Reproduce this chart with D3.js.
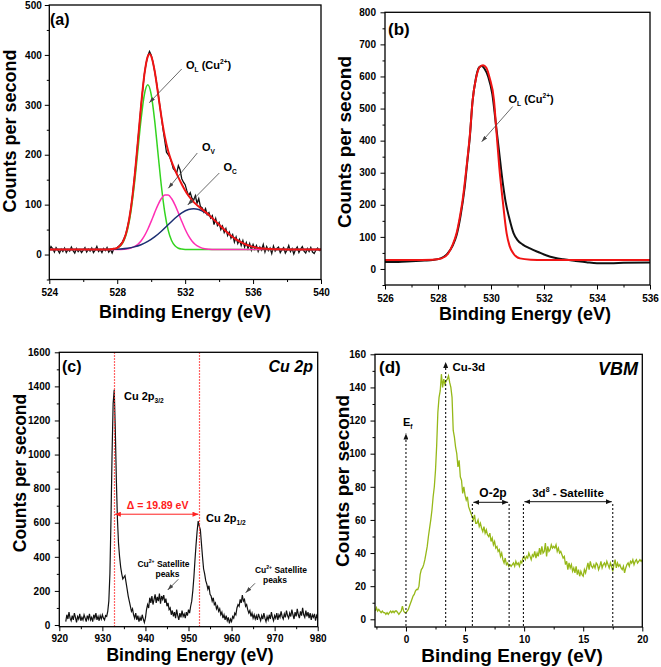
<!DOCTYPE html>
<html><head><meta charset="utf-8">
<script src="https://cdn.jsdelivr.net/npm/d3@7"></script>
<style>
body{margin:0;background:#fff}
svg{display:block}
text{font-family:"Liberation Sans",Arial,sans-serif;font-weight:bold}
</style>
</head><body>
<svg id="chart" width="661" height="667"></svg>
<script>
// ---------------- DATA ----------------
// (a) O 1s raw spectrum: start 524.0 eV, step 0.1 eV
const aRawStart = 524.0, aRawStep = 0.1;
const aRaw = [
  8,16,12,5,14,9,3,11,6,13,
  4,10,7,15,8,3,12,6,10,4,
  9,14,5,11,7,13,4,9,16,6,
  10,4,12,8,14,5,10,3,12,11,
  14,17,21,25,32,40,55,70,92,118,
  150,183,222,258,297,330,362,383,398,407,
  400,386,368,348,325,300,276,250,228,205,
  200,195,185,172,168,163,178,170,152,145,
  140,128,118,124,113,109,118,103,112,96,
  94,85,92,80,84,73,78,60,72,58,
  64,50,57,44,52,38,45,33,40,25,
  35,22,30,18,28,15,24,12,22,9,
  20,11,18,6,15,9,20,5,16,8,
  13,2,17,7,12,15,4,10,14,3,
  9,18,6,12,1,10,15,4,11,16,
  7,3,12,6,14,5,2,9,13,8,
  11
];
// (a) fit envelope and components: [eV, counts]
const aFit = [[524,10],[527,10.1],[527.4,10.3],[527.8,11.5],[528.0,13.6],[528.2,19],[528.4,30.6],[528.6,53],[528.8,91.4],[529.0,148.5],[529.2,220.5],[529.4,297],[529.6,360.8],[529.8,397],[529.9,401.7],[530.0,397.6],[530.2,368.8],[530.4,323.4],[530.6,276.4],[530.8,236.8],[531.0,207.6],[531.2,186.5],[531.4,169.7],[531.6,154.6],[531.8,141],[532.0,128.5],[532.2,117.8],[532.4,109.1],[532.6,102],[532.8,96.1],[533.0,90.5],[533.2,85],[533.4,79.2],[533.6,73],[533.8,66.4],[534.0,59.7],[534.2,53.1],[534.4,46.8],[534.6,40.8],[534.8,35.3],[535.0,30.4],[535.2,26.2],[535.4,22.7],[535.6,19.7],[535.8,17.3],[536.0,15.4],[536.2,13.9],[536.4,12.8],[536.6,12],[536.8,11.4],[537.0,10.9],[537.4,10.5],[538.0,10.1],[540,10]];
const aOL = [[524,10],[527.4,10],[527.6,10.2],[527.8,10.9],[528.0,12.6],[528.2,17.4],[528.4,28],[528.6,48.8],[528.8,84.6],[529.0,137.4],[529.2,203],[529.4,270],[529.6,320.7],[529.8,340],[530.0,320.7],[530.2,270],[530.4,203],[530.6,137.4],[530.8,84.6],[531.0,48.8],[531.2,28],[531.4,17.4],[531.6,12.6],[531.8,10.9],[532.0,10.2],[532.2,10],[540,10]];
const aOV = [[524,10],[527.6,10],[528.0,10.1],[528.4,10.7],[528.8,12.9],[529.0,15.7],[529.2,20.2],[529.4,27.3],[529.6,37.4],[529.8,50.7],[530.0,66.5],[530.2,83.5],[530.4,99.6],[530.6,112.2],[530.8,119.1],[531.0,119.1],[531.2,112.2],[531.4,99.6],[531.6,83.5],[531.8,66.5],[532.0,50.7],[532.2,37.4],[532.4,27.3],[532.6,20.2],[532.8,15.7],[533.0,12.9],[533.4,10.7],[533.8,10.1],[534.2,10],[540,10]];
const aOC = [[524,10],[526.5,10.1],[527.0,10.1],[527.4,10.25],[527.8,10.6],[528.2,11.35],[528.6,12.8],[529.0,15.4],[529.4,19.7],[529.8,26.2],[530.2,35.3],[530.6,46.8],[531.0,59.7],[531.4,72.7],[531.8,83.6],[532.2,90.4],[532.5,92],[532.8,90.4],[533.2,83.6],[533.6,72.7],[534.0,59.7],[534.4,46.8],[534.8,35.3],[535.2,26.2],[535.6,19.7],[536.0,15.4],[536.4,12.8],[536.8,11.35],[537.2,10.6],[537.6,10.25],[538.0,10.1],[540,10]];

// (b) O 1s: measured and fit [eV, counts]
const bRaw = [[526,22],[526.5,22],[527,24],[527.5,26],[527.8,28],[528.1,33],[528.35,47],[528.55,72],[528.7,105],[528.85,165],[529.0,250],[529.1,330],[529.2,410],[529.3,520],[529.42,590],[529.55,628],[529.65,633],[529.75,625],[529.9,598],[530.05,545],[530.2,440],[530.3,370],[530.45,265],[530.55,210],[530.7,155],[530.85,112],[531.0,90],[531.2,76],[531.47,64],[531.8,52],[532.1,42],[532.4,35],[532.73,30],[533.2,25],[533.6,21],[534,18],[534.5,18],[535,19],[536,20]];
const bFit = [[526,28],[527,28],[527.8,29],[528.14,33],[528.39,49],[528.55,75],[528.7,111],[528.82,160],[528.93,215],[529.08,320],[529.21,424],[529.31,528],[529.45,600],[529.58,630],[529.7,635],[529.82,628],[529.95,595],[530.11,528],[530.21,424],[530.31,320],[530.44,215],[530.59,111],[530.7,72],[530.84,49],[531.09,33],[531.5,29],[532,28],[536,28]];

// (c) Cu 2p spectrum: start 921.5 eV, step 0.25 eV
const cRawStart = 921.5, cRawStep = 0.25;
const cRaw = [
  20,60,
  35,75,40,25,  55,30,70,45,  15,50,35,65,  25,45,30,60,  40,20,55,35,
  65,30,45,20,  60,40,70,30,  50,25,55,35,  60,40,30,55,  50,80,140,300,
  620,1000,1300,1380,  1150,850,620,480,  400,340,300,270,  280,290,250,210,  170,140,110,80,
  95,60,40,70,  30,55,20,45,  25,60,35,15,  40,90,120,100,  160,130,170,120,
  150,180,130,165,  140,185,125,170,  150,175,130,155,  110,130,90,100,  60,85,50,75,
  40,90,55,30,  70,45,85,50,  65,40,75,55,  90,70,110,140,  200,280,380,470,
  550,610,580,560,  480,400,330,300,  260,240,210,230,  180,170,140,160,  120,130,95,110,
  80,95,60,75,  40,60,30,55,  25,45,10,35,  20,50,40,70,  60,100,120,110,
  150,130,175,140,  150,110,120,90,  70,85,50,70,  40,60,35,55,  30,65,45,25,
  55,35,70,40,  20,50,30,60,  35,75,45,25,  55,40,70,30,  60,45,80,50,
  35,65,45,85,  55,40,70,50,  90,60,35,75,  50,95,60,40,  80,55,100,60,
  45,85,50,75,  40,70,30,60,  45,65,25,55,
  40
];
const cPeaks = [932.66, 952.55];        // Cu 2p3/2, Cu 2p1/2 positions (eV)
const cSplitLabel = "\u0394 = 19.89 eV";

// (d) valence band: start -2.6 eV, step 0.1 eV
const dRawStart = -2.6, dRawStep = 0.1;
const dRaw = [
  5,7,5,6,5,4,
  5,4,4,3,4,3,4,5,4,5,
  4,5,5,4,3,4,5,8,5,4,
  4,5,6,8,10,12,14,15,17,18,
  18,20,27,30,31,33,36,40,44,50,
  55,60,66,74,80,90,105,125,134,138,
  148,140,145,142,144,145,147,143,140,134,
  114,110,104,100,92,96,86,84,76,80,
  75,72,74,68,66,64,62,60,63,58,
  58,60,56,58,55,53,56,52,54,51,
  50,52,47,49,45,47,43,44,41,42,
  38,40,36,34,37,33,34,32,33,32,
  33,34,32,35,33,34,32,35,34,37,
  38,36,38,37,40,38,36,39,38,41,
  37,40,38,43,39,44,40,41,46,38,
  44,41,42,45,43,44,43,45,41,43,
  40,41,39,37,38,33,35,30,34,31,
  33,29,31,28,32,27,30,26,29,27,
  26,30,28,31,34,30,35,32,31,33,
  31,34,33,30,32,35,31,33,34,32,
  35,33,31,34,32,29,33,36,31,34,
  32,33,31,30,32,28,31,33,34,32,
  35,34,36,33,35,36,34,35,36,35,
  36
];
const dMarks = {Ef: 0, Cu3d: 3.36, O2pFrom: 5.62, O2pTo: 8.73, SatFrom: 9.94, SatTo: 17.5};

// tick values
const aXTicks = [524,528,532,536,540], aXMinor = [526,530,534,538];
const aYTicks = [0,100,200,300,400,500], aYMinor = [-50,50,150,250,350,450];
const bXTicks = [526,528,530,532,534,536], bXMinor = [527,529,531,533,535];
const bYTicks = [0,100,200,300,400,500,600,700,800], bYMinor = [-50,50,150,250,350,450,550,650,750];
const cXTicks = [920,930,940,950,960,970,980], cXMinor = [925,935,945,955,965,975];
const cYTicks = [0,200,400,600,800,1000,1200,1400,1600], cYMinor = [100,300,500,700,900,1100,1300,1500];
const dXTicks = [0,5,10,15,20], dXMinor = [-2.5,2.5,7.5,12.5,17.5];
const dYTicks = [0,20,40,60,80,100,120,140,160], dYMinor = [10,30,50,70,90,110,130,150];

// ---------------- DRAWING ----------------
const svg = d3.select('#chart');
const defs = svg.append('defs');
function marker(id, color, w, h) {
  defs.append('marker').attr('id', id).attr('viewBox', `0 0 ${w} ${h}`)
    .attr('refX', w).attr('refY', h/2).attr('markerWidth', w).attr('markerHeight', h)
    .attr('markerUnits', 'userSpaceOnUse').attr('orient', 'auto-start-reverse')
    .append('path').attr('d', `M0,0L${w},${h/2}L0,${h}Z`).attr('fill', color);
}
marker('arrG', '#444', 6, 4);
marker('arrR', '#ff2020', 6, 5);
marker('arrK', '#111', 6, 5);

function seriesFrom(start, step, vals) { return vals.map((v, i) => [start + i * step, v]); }

function panel(p) {
  const x = d3.scaleLinear().domain(p.xDom).range([p.l, p.r]);
  const y = d3.scaleLinear().domain(p.yDom).range([p.b, p.t]);
  const g = svg.append('g');
  defs.append('clipPath').attr('id', 'clip' + p.id).append('rect')
    .attr('x', p.l).attr('y', p.t).attr('width', p.r - p.l).attr('height', p.b - p.t);
  const style = s => {
    s.select('.domain').remove();
    s.selectAll('text').attr('font-size', 10).attr('fill', '#000');
    s.selectAll('line').attr('stroke', '#000').attr('stroke-width', 1);
  };
  g.append('g').attr('transform', `translate(0,${p.b})`).call(d3.axisBottom(x).tickValues(p.xMinor).tickSize(2.5).tickFormat(() => '')).call(style);
  g.append('g').attr('transform', `translate(0,${p.b})`).call(d3.axisBottom(x).tickValues(p.xTicks).tickSize(4.5).tickPadding(p.xPad || 5).tickFormat(d3.format('d'))).call(style);
  g.append('g').attr('transform', `translate(${p.l},0)`).call(d3.axisLeft(y).tickValues(p.yMinor).tickSize(2.5).tickFormat(() => '')).call(style);
  g.append('g').attr('transform', `translate(${p.l},0)`).call(d3.axisLeft(y).tickValues(p.yTicks).tickSize(4.5).tickPadding(p.yPad || 4.5).tickFormat(d3.format('d'))).call(style);
  const plot = g.append('g').attr('clip-path', `url(#clip${p.id})`);
  // axis titles
  g.append('text').attr('x', p.xtx).attr('y', p.xty).attr('text-anchor', 'middle').attr('font-size', p.xts).text('Binding Energy (eV)');
  g.append('text').attr('transform', `translate(${p.ytx},${p.yty}) rotate(-90)`).attr('text-anchor', 'middle').attr('font-size', p.yts).text('Counts per second');
  const frame = () => g.append('rect').attr('x', p.l).attr('y', p.t).attr('width', p.r - p.l).attr('height', p.b - p.t)
    .attr('fill', 'none').attr('stroke', '#000').attr('stroke-width', 1.3);
  return {x, y, g, plot, frame};
}

function rich(sel, x, y, parts, size, anchor, fill, fstyle) {
  const t = sel.append('text').attr('x', x).attr('y', y).attr('font-size', size)
    .attr('text-anchor', anchor || 'start').attr('fill', fill || '#000').attr('font-style', fstyle || 'normal');
  let shift = 0;
  parts.forEach(([s, k]) => {
    const target = k === 'sub' ? size * 0.3 : k === 'sup' ? -size * 0.42 : 0;
    const ts = t.append('tspan').text(s).attr('dy', target - shift);
    if (k !== 'n') ts.attr('font-size', size * 0.6);
    shift = target;
  });
  return t;
}
function arrow(sel, x1, y1, x2, y2, color, mk, w, dash, both) {
  const l = sel.append('line').attr('x1', x1).attr('y1', y1).attr('x2', x2).attr('y2', y2)
    .attr('stroke', color).attr('stroke-width', w).attr('marker-end', `url(#${mk})`);
  if (both) l.attr('marker-start', `url(#${mk})`);
  if (dash) l.attr('stroke-dasharray', dash);
  return l;
}
const lineGen = (x, y, curve) => d3.line().x(d => x(d[0])).y(d => y(d[1])).curve(curve || d3.curveLinear);

// ---- Panel (a)
const A = panel({id: 'a', l: 49.3, r: 321, t: 5, b: 279.5, xDom: [524, 540], yDom: [-50, 500],
  xTicks: aXTicks, xMinor: aXMinor, yTicks: aYTicks, yMinor: aYMinor, yPad: 3,
  xtx: 185, xty: 318, xts: 18, ytx: 16, yty: 131, yts: 18});
A.plot.append('path').attr('d', lineGen(A.x, A.y)(seriesFrom(aRawStart, aRawStep, aRaw))).attr('fill', 'none').attr('stroke', '#111').attr('stroke-width', 1.3);
A.plot.append('path').attr('d', lineGen(A.x, A.y, d3.curveMonotoneX)(aOL)).attr('fill', 'none').attr('stroke', '#33d41f').attr('stroke-width', 1.5);
A.plot.append('path').attr('d', lineGen(A.x, A.y, d3.curveMonotoneX)(aOV)).attr('fill', 'none').attr('stroke', '#ff2fb4').attr('stroke-width', 1.5);
A.plot.append('path').attr('d', lineGen(A.x, A.y, d3.curveMonotoneX)(aOC)).attr('fill', 'none').attr('stroke', '#1c2f72').attr('stroke-width', 1.5);
A.plot.append('path').attr('d', lineGen(A.x, A.y, d3.curveMonotoneX)(aFit)).attr('fill', 'none').attr('stroke', '#f01414').attr('stroke-width', 2);
A.frame();
A.g.append('text').attr('x', 50).attr('y', 25).attr('font-size', 16).text('(a)');
rich(A.g, 186, 69, [['O', 'n'], ['L', 'sub'], [' (Cu', 'n'], ['2+', 'sup'], [')', 'n']], 11);
arrow(A.g, 181.7, 69, 149.3, 102.7, '#444', 'arrG', 0.8);
rich(A.g, 202, 151, [['O', 'n'], ['V', 'sub']], 11);
arrow(A.g, 197.3, 153, 168.3, 188.3, '#444', 'arrG', 0.8);
rich(A.g, 223.5, 171, [['O', 'n'], ['C', 'sub']], 11);
arrow(A.g, 219.3, 173, 187.7, 205, '#444', 'arrG', 0.8);

// ---- Panel (b)
const B = panel({id: 'b', l: 385, r: 650, t: 12.3, b: 285, xDom: [526, 536], yDom: [-50, 800],
  xTicks: bXTicks, xMinor: bXMinor, yTicks: bYTicks, yMinor: bYMinor,
  xtx: 525, xty: 320, xts: 18, ytx: 351, yty: 142, yts: 19});
B.plot.append('path').attr('d', lineGen(B.x, B.y, d3.curveMonotoneX)(bRaw)).attr('fill', 'none').attr('stroke', '#111').attr('stroke-width', 2);
B.plot.append('path').attr('d', lineGen(B.x, B.y, d3.curveMonotoneX)(bFit)).attr('fill', 'none').attr('stroke', '#f01414').attr('stroke-width', 2);
B.frame();
B.g.append('text').attr('x', 388).attr('y', 35).attr('font-size', 17).text('(b)');
rich(B.g, 508.5, 103, [['O', 'n'], ['L', 'sub'], [' (Cu', 'n'], ['2+', 'sup'], [')', 'n']], 11);
arrow(B.g, 512.7, 106.5, 481.7, 141.7, '#444', 'arrG', 0.8);

// ---- Panel (c)
const C = panel({id: 'c', l: 59.3, r: 317.7, t: 352.3, b: 626.7, xDom: [920, 980], yDom: [-10, 1600],
  xTicks: cXTicks, xMinor: cXMinor, yTicks: cYTicks, yMinor: cYMinor, xPad: 4,
  xtx: 190, xty: 661, xts: 17.5, ytx: 26, yty: 473, yts: 17.5});
C.plot.append('path').attr('d', lineGen(C.x, C.y)(seriesFrom(cRawStart, cRawStep, cRaw))).attr('fill', 'none').attr('stroke', '#111').attr('stroke-width', 1.2);
cPeaks.forEach(e => C.plot.append('line').attr('x1', Math.round(C.x(e)) + 0.5).attr('x2', Math.round(C.x(e)) + 0.5).attr('y1', C.y(1600)).attr('y2', C.y(-10))
  .attr('stroke', '#ff3030').attr('stroke-width', 1.2).attr('stroke-dasharray', '1.5,1.5'));
arrow(C.g, C.x(cPeaks[0]) + 1, C.y(650), C.x(cPeaks[1]) - 1, C.y(650), '#ff2020', 'arrR', 1, null, true);
C.g.append('text').attr('x', (C.x(cPeaks[0]) + C.x(cPeaks[1])) / 2 + 1).attr('y', 508.5).attr('text-anchor', 'middle')
  .attr('font-size', 10.5).attr('fill', '#ff2020').text(cSplitLabel);
C.frame();
C.g.append('text').attr('x', 62).attr('y', 372).attr('font-size', 16).text('(c)');
C.g.append('text').attr('x', 313).attr('y', 372).attr('text-anchor', 'end').attr('font-size', 16).attr('font-style', 'italic').text('Cu 2p');
rich(C.g, 124, 400, [['Cu 2p', 'n'], ['3/2', 'sub']], 11);
rich(C.g, 206, 522, [['Cu 2p', 'n'], ['1/2', 'sub']], 11);
rich(C.g, 163.5, 566.5, [['Cu', 'n'], ['2+', 'sup'], [' Satellite', 'n']], 8.5, 'middle');
C.g.append('text').attr('x', 167.5).attr('y', 577).attr('text-anchor', 'middle').attr('font-size', 8.5).text('peaks');
arrow(C.g, 178.3, 579.3, 167.7, 590, '#333', 'arrG', 0.8);
rich(C.g, 281, 572.5, [['Cu', 'n'], ['2+', 'sup'], [' Satellite', 'n']], 8.5, 'middle');
C.g.append('text').attr('x', 275).attr('y', 583).attr('text-anchor', 'middle').attr('font-size', 8.5).text('peaks');
arrow(C.g, 255, 583.3, 245.7, 592.7, '#333', 'arrG', 0.8);

// ---- Panel (d)
const D = panel({id: 'd', l: 375, r: 642.3, t: 354.3, b: 627, xDom: [-2.62, 20], yDom: [-4.65, 160],
  xTicks: dXTicks, xMinor: dXMinor, yTicks: dYTicks, yMinor: dYMinor, xPad: 4.5,
  xtx: 512, xty: 662, xts: 19, ytx: 349, yty: 481, yts: 19});
const dash = '2,2';
arrow(D.g, D.x(dMarks.Ef), D.y(-4), D.x(dMarks.Ef), 433.5, '#111', 'arrK', 1.1, dash);
arrow(D.g, D.x(dMarks.Cu3d), D.y(-4), D.x(dMarks.Cu3d), 362, '#111', 'arrK', 1.1, dash);
[dMarks.O2pFrom, dMarks.O2pTo, dMarks.SatFrom, dMarks.SatTo].forEach(e =>
  D.g.append('line').attr('x1', D.x(e)).attr('x2', D.x(e)).attr('y1', D.y(-4)).attr('y2', 502)
    .attr('stroke', '#111').attr('stroke-width', 1.1).attr('stroke-dasharray', dash));
arrow(D.g, D.x(dMarks.O2pFrom) + 1, 502.3, D.x(dMarks.O2pTo) - 1, 502.3, '#111', 'arrK', 1, null, true);
arrow(D.g, D.x(dMarks.SatFrom) + 1, 501.7, D.x(dMarks.SatTo) - 1, 501.7, '#111', 'arrK', 1, null, true);
D.plot.append('path').attr('d', lineGen(D.x, D.y)(seriesFrom(dRawStart, dRawStep, dRaw))).attr('fill', 'none').attr('stroke', '#96b818').attr('stroke-width', 1.3);
D.frame();
D.g.append('text').attr('x', 379).attr('y', 373).attr('font-size', 17).text('(d)');
D.g.append('text').attr('x', 638).attr('y', 375).attr('text-anchor', 'end').attr('font-size', 18).attr('font-style', 'italic').text('VBM');
D.g.append('text').attr('x', 452.5).attr('y', 370.5).attr('font-size', 11.5).text('Cu-3d');
rich(D.g, 403, 426, [['E', 'n'], ['f', 'sub']], 11);
D.g.append('text').attr('x', 493).attr('y', 497).attr('text-anchor', 'middle').attr('font-size', 12).text('O-2p');
rich(D.g, 568, 497, [['3d', 'n'], ['8', 'sup'], [' - Satellite', 'n']], 11.5, 'middle');
</script>
</body></html>
